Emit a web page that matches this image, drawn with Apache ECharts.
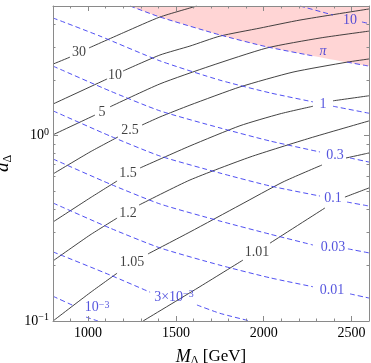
<!DOCTYPE html>
<html>
<head>
<meta charset="utf-8">
<script src="https://cdn.jsdelivr.net/npm/echarts@6/dist/echarts.min.js"></script>
<style>
  html, body { margin: 0; padding: 0; background: #fff; }
  #chart { width: 371px; height: 363px; }
</style>
</head>
<body>
<div id="chart"></div>
<script>
// tick positions
const xMajorTicks = [1000, 1500, 2000, 2500];
const xMinorTicks = [900, 1100, 1200, 1300, 1400, 1600, 1700, 1800, 1900, 2100, 2200, 2300, 2400];
const yMajorTicks = [0.1, 1];
const yMinorTicks = [0.2, 0.3, 0.4, 0.5, 0.6, 0.7, 0.8, 0.9, 2, 3, 4];

// black contours [M, a]; null = gap left for the label
const k30 = [[800, 2.43], [897, 2.65], null, [1005, 2.97], [1210, 3.62], [1409, 4.36], [1620, 5.0]];
const k10 = [[800, 1.48], [1108, 2.02], null, [1199, 2.23], [1409, 2.72], [1580, 3.04], [1751, 3.44], [1979, 3.80], [2207, 4.20], [2600, 4.82]];
const k5 = [[800, 1.01], [1039, 1.29], null, [1125, 1.43], [1409, 1.90], [1694, 2.37], [2019, 2.97], [2321, 3.36], [2600, 3.66]];
const k2_5 = [[800, 0.621], [1011, 0.816], [1170, 0.983], null, [1307, 1.14], [1409, 1.26], [1580, 1.46], [1865, 1.83], [2167, 2.20], [2475, 2.49], [2600, 2.59]];
const k1_5 = [[800, 0.342], [1011, 0.461], [1165, 0.569], null, [1296, 0.669], [1580, 0.879], [1865, 1.13], [2093, 1.31], [2281, 1.44], null, [2395, 1.54], [2600, 1.64]];
const k1_2 = [[800, 0.211], [1011, 0.291], [1165, 0.359], null, [1290, 0.422], [1580, 0.576], [1922, 0.766], [2264, 0.970], [2600, 1.20]];
const k1_05 = [[800, 0.100], [1011, 0.142], [1165, 0.181], null, [1341, 0.230], [1580, 0.302], [1865, 0.422], [2110, 0.562], [2332, 0.694], null, [2469, 0.757], [2600, 0.806]];
const k1_01 = [[1313, 0.100], [1626, 0.151], [1882, 0.213], null, [2036, 0.263], [2349, 0.407], null, [2463, 0.466], [2600, 0.522]];

// blue dashed contours
const b10 = [[2207, 5.0], [2395, 4.47], null, [2560, 4.10], [2600, 4.02]];
const bPi = [[1239, 5.0], [1409, 4.36], [1751, 3.49], [2019, 3.01], [2281, 2.69], null, [2475, 2.49], [2600, 2.37]];
const b1 = [[800, 4.31], [1068, 3.44], [1409, 2.53], [1751, 1.99], [2036, 1.70], [2281, 1.52], null, [2395, 1.44], [2600, 1.32]];
const b0_3 = [[800, 2.37], [1125, 1.74], [1409, 1.36], [1751, 1.10], [2036, 0.935], [2321, 0.816], null, [2492, 0.757], [2600, 0.720]];
const b0_1 = [[800, 1.36], [1125, 0.995], [1409, 0.776], [1751, 0.628], [2036, 0.535], [2321, 0.472], null, [2475, 0.438], [2600, 0.417]];
const b0_03 = [[800, 0.748], [1125, 0.548], [1409, 0.428], [1751, 0.346], [2036, 0.294], [2281, 0.257], null, [2480, 0.245], [2600, 0.233]];
const b0_01 = [[800, 0.433], [1125, 0.317], [1409, 0.248], [1751, 0.200], [2036, 0.171], [2281, 0.153], null, [2492, 0.140], [2600, 0.133]];
const b3em3 = [[800, 0.236], [1125, 0.177], [1353, 0.143], null, [1620, 0.122], [1751, 0.110], [1922, 0.100]];
const b1em3 = [[800, 0.136], [925, 0.120], null, [988, 0.105], [1056, 0.100]];

// contour labels [text, M, a]
const blackLabels = [
  ['30', 948, 2.82], ['10', 1153, 2.12], ['5', 1079, 1.34], ['2.5', 1239, 1.07],
  ['1.5', 1227, 0.628], ['1.2', 1227, 0.382], ['1.05', 1250, 0.208], ['1.01', 1962, 0.236]
];
const blueLabels = [
  ['10', 2492, 4.20], ['{it|π}', 2338, 2.86], ['1', 2338, 1.48], ['0.3', 2406, 0.785],
  ['0.1', 2395, 0.461], ['0.03', 2395, 0.251], ['0.01', 2389, 0.147],
  ['3×10{s|−3}', 1489, 0.135], ['10{s|−3}', 1051, 0.119]
];

const serif = 'Liberation Serif';
const frameColor = '#8a8a8a';
const blackLine = '#2e2e2e';
const blueLine = '#3c3cf0';
const blueText = '#2a2ad6';
const pink = '#ffd5d5';

const supRich = {
  n: { fontFamily: serif, fontSize: 14, lineHeight: 17 },
  s: { fontFamily: serif, fontSize: 10, lineHeight: 10, verticalAlign: 'top' },
  it: { fontFamily: serif, fontSize: 14, fontStyle: 'italic' }
};

function xAxisDef(pos, ticks, len, withLabels) {
  return {
    type: 'value', min: 800, max: 2600, position: pos, z: 5,
    axisLine: { show: len > 3, onZero: false, lineStyle: { color: frameColor, width: 1 } },
    axisTick: { show: true, inside: true, length: len, customValues: ticks, lineStyle: { color: frameColor } },
    axisLabel: withLabels
      ? { show: true, customValues: ticks, margin: 5, color: '#000', fontFamily: serif, fontSize: 14,
          formatter: v => String(v) }
      : { show: false },
    splitLine: { show: false }
  };
}

function yAxisDef(pos, ticks, len, withLabels) {
  return {
    type: 'log', logBase: 10, min: 0.1, max: 5, position: pos, z: 5,
    axisLine: { show: len > 3, onZero: false, lineStyle: { color: frameColor, width: 1 } },
    axisTick: { show: true, inside: true, length: len, customValues: ticks, lineStyle: { color: frameColor } },
    axisLabel: withLabels
      ? {
          show: true, customValues: ticks, margin: 4, color: '#000', fontFamily: serif, fontSize: 14,
          formatter: v => {
            const e = Math.round(Math.log10(v));
            return '{n|10}{s|' + (e < 0 ? '−' + (-e) : e) + '}';
          },
          rich: supRich
        }
      : { show: false },
    splitLine: { show: false }
  };
}

function contour(points, color, dashed) {
  return {
    type: 'line',
    data: points.map(p => (p ? p : ['-', '-'])),
    smooth: 0.2,
    symbol: 'none',
    silent: true,
    connectNulls: false,
    lineStyle: { color: color, width: 0.9, type: dashed ? [5, 3] : 'solid' },
    z: 3
  };
}

function labelSeries(labels, color) {
  return {
    type: 'scatter',
    data: labels.map(l => ({ name: l[0], value: [l[1], l[2]] })),
    symbolSize: 1,
    itemStyle: { color: 'transparent' },
    silent: true,
    z: 6,
    label: {
      show: true, position: 'inside', color: color, fontFamily: serif, fontSize: 14,
      formatter: p => p.name,
      rich: {
        s: { fontFamily: serif, fontSize: 10, lineHeight: 10, verticalAlign: 'top', color: color },
        it: { fontFamily: serif, fontSize: 14, fontStyle: 'italic', color: color }
      }
    }
  };
}

const chart = echarts.init(document.getElementById('chart'), null, { renderer: 'canvas' });

const series = [
  {
    type: 'line',
    data: bPi.filter(p => p),
    smooth: 0.2,
    symbol: 'none',
    silent: true,
    lineStyle: { width: 0 },
    areaStyle: { color: pink, opacity: 1, origin: 'end' },
    z: 1
  }
];
[k30, k10, k5, k2_5, k1_5, k1_2, k1_05, k1_01].forEach(c => series.push(contour(c, blackLine, false)));
[b10, bPi, b1, b0_3, b0_1, b0_03, b0_01, b3em3, b1em3].forEach(c => series.push(contour(c, blueLine, true)));
series.push(labelSeries(blackLabels, '#111'));
series.push(labelSeries(blueLabels, blueText));

const xMain = xAxisDef('bottom', xMajorTicks, 5, true);
xMain.name = '{i|M}{d|Δ} [GeV]';
xMain.nameLocation = 'middle';
xMain.nameGap = 26;
xMain.nameTextStyle = {
  fontFamily: serif, fontSize: 17, color: '#000',
  rich: {
    i: { fontFamily: serif, fontSize: 18, fontStyle: 'italic', lineHeight: 20 },
    d: { fontFamily: serif, fontSize: 12, lineHeight: 12, verticalAlign: 'bottom' }
  }
};

const yMain = yAxisDef('left', yMajorTicks, 5, true);
yMain.name = '{i|a}{d|Δ}';
yMain.nameLocation = 'middle';
yMain.nameGap = 36;
yMain.nameTextStyle = {
  fontFamily: serif, fontSize: 17, color: '#000',
  rich: {
    i: { fontFamily: serif, fontSize: 19, fontStyle: 'italic', lineHeight: 20 },
    d: { fontFamily: serif, fontSize: 12, lineHeight: 12, verticalAlign: 'bottom' }
  }
};

chart.setOption({
  animation: false,
  backgroundColor: '#fff',
  grid: { left: 53, right: 2, top: 6, bottom: 42, show: false, outerBoundsMode: 'none' },
  xAxis: [
    xMain,
    xAxisDef('bottom', xMinorTicks, 2.5, false),
    xAxisDef('top', xMajorTicks, 5, false),
    xAxisDef('top', xMinorTicks, 2.5, false)
  ],
  yAxis: [
    yMain,
    yAxisDef('left', yMinorTicks, 2.5, false),
    yAxisDef('right', yMajorTicks, 5, false),
    yAxisDef('right', yMinorTicks, 2.5, false)
  ],
  series: series
});
</script>
</body>
</html>
